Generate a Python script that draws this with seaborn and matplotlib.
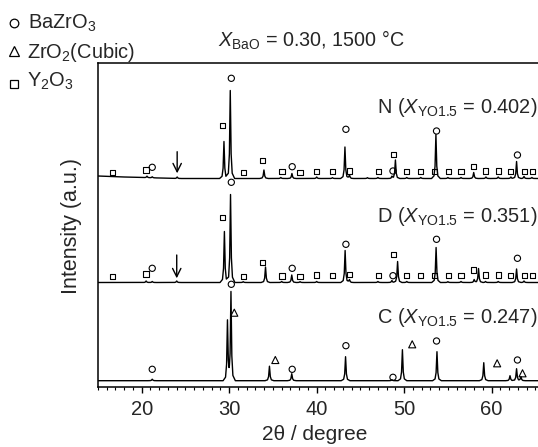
import numpy as np
import pandas as pd
import matplotlib
matplotlib.use("Agg")
import matplotlib.pyplot as plt
import seaborn as sns
from matplotlib.ticker import MultipleLocator

# ------------------------------------------------------------------ data
samples = ["N", "D", "C"]
sample_labels = [
    r"N ($\mathit{X}_{\mathrm{YO1.5}}$ = 0.402)",
    r"D ($\mathit{X}_{\mathrm{YO1.5}}$ = 0.351)",
    r"C ($\mathit{X}_{\mathrm{YO1.5}}$ = 0.247)",
]
# vertical stacking offsets (a.u.)
offsets = [208.5, 104.5, 6.3]

# background (2theta, a.u. above pattern baseline)
n_bg_tt = [15.0, 18.0, 24.0, 65.3]
n_bg_I = [2.5, 1.5, 0.0, 0.0]
d_bg_tt = [15.0, 65.3]
d_bg_I = [0.0, 0.0]
c_bg_tt = [15.0, 65.3]
c_bg_I = [0.0, 0.0]

# peak positions (2theta / degree) and heights (a.u.)
n_peak_tt = [20.6, 21.2, 24.05, 29.4, 30.12, 33.97, 35.9, 37.17, 40.0, 41.8,
             43.23, 43.75, 45.8, 47.0, 48.6, 49.0, 50.3, 51.9, 53.63, 55.0,
             56.5, 57.95, 59.35, 60.75, 62.2, 62.85, 63.7, 64.6]
n_peak_I = [1.5, 1.0, 1.5, 37, 88, 8.5, 1.0, 5.0, 1.5, 0.8,
            31.5, 3.5, 0.8, 1.0, 2.0, 18.5, 1.0, 1.0, 44, 1.0,
            1.0, 6.0, 1.5, 1.5, 1.5, 17, 2.0, 1.0]

d_peak_tt = [20.5, 21.2, 24.0, 29.45, 30.15, 31.6, 34.15, 36.0, 37.15, 38.1,
             40.0, 43.25, 43.75, 47.0, 48.6, 49.25, 50.3, 53.65, 55.0, 56.5,
             58.0, 58.5, 59.3, 60.75, 62.85, 63.7]
d_peak_I = [1.5, 1.0, 1.5, 51, 88, 0.8, 15.5, 1.0, 7.5, 0.8,
            1.0, 32, 3.0, 1.0, 2.0, 21, 1.0, 35, 0.8, 1.0,
            3.0, 14, 1.0, 1.0, 13.5, 1.5]

c_peak_tt = [21.2, 29.8, 30.2, 34.6, 37.15, 43.3, 48.6, 49.8, 53.75, 59.1,
             62.1, 62.85, 63.35]
c_peak_I = [1.5, 59, 88, 14.5, 7.0, 24, 1.0, 31, 29, 18,
            5.0, 12, 4.0]

# phase markers: 2theta and height above pattern baseline
y2o3_tt = [16.68, 20.49, 29.25, 31.6, 33.8, 36.03, 38.09, 39.99, 41.8, 43.72,
           47.04, 48.75, 50.27, 51.91, 53.51, 55.03, 56.49, 57.89, 59.34,
           60.75, 62.2, 63.72, 64.68]
n_y2o3_I = [6.2, 8.5, 52.8, 6.2, 17.8, 6.8, 6.2, 6.8, 6.8, 7.5,
            6.8, 24.2, 6.8, 6.8, 6.8, 6.8, 6.8, 11.8, 7.5, 7.5, 6.8, 6.8, 6.8]
d_y2o3_I = [5.8, 8.5, 64.8, 5.8, 20.3, 6.5, 5.8, 7.5, 6.8, 8.2,
            6.8, 28.2, 6.8, 6.8, 6.8, 6.8, 6.8, 12.5, 7.5, 7.5, 6.8, 6.8, 6.8]

bzo_tt = [21.2, 30.24, 37.2, 43.34, 48.72, 53.7, 62.95]
n_bzo_I = [11.2, 100.2, 11.8, 49.2, 7.5, 47.5, 23.5]
d_bzo_I = [14.2, 100.2, 14.2, 38.2, 6.8, 43.2, 24.2]
c_bzo_I = [11.4, 96.4, 11.4, 35.0, 3.4, 39.7, 20.7]

c_zro2_tt = [30.58, 35.27, 50.92, 60.63, 63.53]
c_zro2_I = [68, 20.7, 36.4, 17.4, 7.4]

# unidentified peak (arrow) at 2theta
arrow_tt = [24.05, 24.0]          # for N, D
arrow_I = [(26.8, 5.2), (27.5, 4.2)]  # start, tip above baseline

peaks = {"N": (n_peak_tt, n_peak_I, n_bg_tt, n_bg_I),
         "D": (d_peak_tt, d_peak_I, d_bg_tt, d_bg_I),
         "C": (c_peak_tt, c_peak_I, c_bg_tt, c_bg_I)}

# ------------------------------------------------------------------ style
sns.set_style("ticks")
plt.rcParams["font.family"] = ["Liberation Sans", "DejaVu Sans"]
plt.rcParams["mathtext.fontset"] = "custom"
plt.rcParams["mathtext.rm"] = "Liberation Sans"
plt.rcParams["mathtext.it"] = "Liberation Sans:italic"
plt.rcParams["mathtext.bf"] = "Liberation Sans:bold"

W, H = 538, 447
fig = plt.figure(figsize=(W / 100, H / 100), dpi=100)
ax = fig.add_axes([98 / W, 60 / H, 440 / W, 324 / H])
XMIN, XMAX = 15.0, 65.3

# piecewise peak outline (relative offsets / fractions)
PEAK_DX = np.array([-0.5, -0.22, -0.1, 0.0, 0.1, 0.22, 0.5])
PEAK_FRAC = np.array([0.0, 0.06, 0.28, 1.0, 0.28, 0.06, 0.0])


def pattern(tt, I, bg_tt, bg_I, off):
    xs = [XMIN, XMAX] + list(bg_tt)
    for p in tt:
        xs.extend(p + PEAK_DX)
    xs = np.unique(np.clip(np.array(xs, dtype=float), XMIN, XMAX))
    ys = np.interp(xs, bg_tt, bg_I)
    for p, h in zip(tt, I):
        ys = ys + h * np.interp(xs, p + PEAK_DX, PEAK_FRAC, left=0, right=0)
    return xs, ys + off


frames = []
for s, off in zip(samples, offsets):
    tt, I, btt, bI = peaks[s]
    x, y = pattern(tt, I, btt, bI, off)
    frames.append(pd.DataFrame({"tt": x, "I": y, "sample": s}))
df = pd.concat(frames, ignore_index=True)

sns.lineplot(data=df, x="tt", y="I", units="sample", estimator=None,
             sort=False, color="black", lw=1.0, ax=ax, legend=False)

mk = dict(facecolor="none", edgecolor="black", linewidth=0.8, zorder=3,
          ax=ax, legend=False)
# Y2O3 squares
for I, off in zip([n_y2o3_I, d_y2o3_I], offsets[:2]):
    sns.scatterplot(x=y2o3_tt, y=np.array(I) + off, marker="s", s=14, **mk)
# BaZrO3 circles
for I, off in zip([n_bzo_I, d_bzo_I, c_bzo_I], offsets):
    sns.scatterplot(x=bzo_tt, y=np.array(I) + off, marker="o", s=20, **mk)
# ZrO2 triangles
sns.scatterplot(x=c_zro2_tt, y=np.array(c_zro2_I) + offsets[2], marker="^",
                s=26, **mk)
# arrows
for xa, (y0, y1), off in zip(arrow_tt, arrow_I, offsets[:2]):
    ax.annotate("", xy=(xa, off + y1), xytext=(xa, off + y0),
                arrowprops=dict(arrowstyle="->,head_length=0.6,head_width=0.3",
                                lw=1.0, color="black", shrinkA=0, shrinkB=0))

ax.set_xlim(XMIN, XMAX)
ax.set_ylim(0, 324)
ax.set_yticks([])
ax.xaxis.set_major_locator(MultipleLocator(10))
ax.xaxis.set_minor_locator(MultipleLocator(1))
ax.tick_params(axis="x", which="major", direction="out", length=4.5,
               width=1.0, labelsize=14.5, pad=5, color="black")
ax.tick_params(axis="x", which="minor", direction="out", length=2.2,
               width=0.8, color="black")
for side in ["left", "top", "bottom"]:
    ax.spines[side].set_linewidth(1.1)
    ax.spines[side].set_color("black")
ax.spines["right"].set_visible(False)

ax.set_xlabel("2θ / degree", fontsize=15)
ax.xaxis.set_label_coords((315 - 98) / 440, (387 - 425) / 324)
ax.set_ylabel("Intensity (a.u.)", fontsize=15.5)
ax.yaxis.set_label_coords((82 - 98) / 440, (387 - 226) / 324)

# overlay for annotations in pixel space
ov = fig.add_axes([0, 0, 1, 1], facecolor="none")
ov.set_xlim(0, W)
ov.set_ylim(H, 0)
ov.axis("off")

label_baselines = [113, 222, 323]
for lab, yb in zip(sample_labels, label_baselines):
    ov.text(537, yb, lab, ha="right", va="baseline", fontsize=14.4)

ov.text(218, 46.7, r"$\mathit{X}_{\mathrm{BaO}}$ = 0.30, 1500 °C",
        ha="left", va="baseline", fontsize=14.2)

# phase key (top-left)
ov.plot([14], [23.3], marker="o", ms=6.2, mfc="none", mec="black", mew=0.9)
ov.plot([14], [50.5], marker="^", ms=6.8, mfc="none", mec="black", mew=0.9)
ov.plot([14], [83.5], marker="s", ms=5.6, mfc="none", mec="black", mew=0.9)
ov.text(28, 29, r"BaZrO$_3$", ha="left", va="baseline", fontsize=14.4)
ov.text(27, 57.5, r"ZrO$_2$(Cubic)", ha="left", va="baseline", fontsize=14.4)
ov.text(27, 86.5, r"Y$_2$O$_3$", ha="left", va="baseline", fontsize=14.4)

fig.savefig("out.png", dpi=100)
